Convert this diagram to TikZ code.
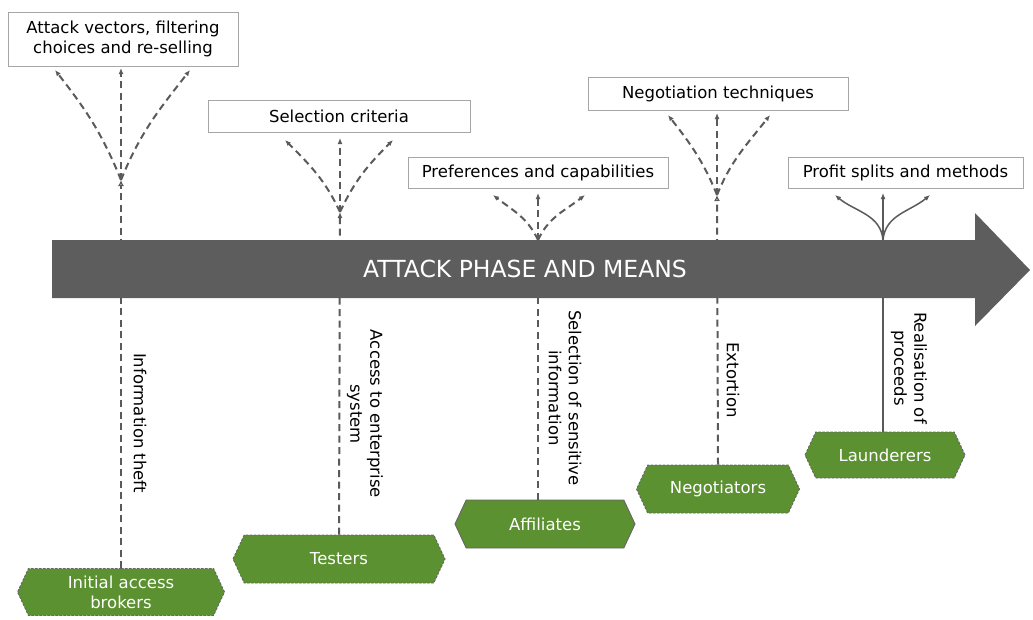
\documentclass[tikz,border=0pt]{standalone}
\usepackage{fontspec}
\setmainfont{DejaVu Sans}
\usetikzlibrary{shapes.symbols,arrows.meta}
\definecolor{grn}{HTML}{5B9130}
\definecolor{arrowgray}{HTML}{5D5D5D}
\definecolor{linegray}{HTML}{5A5A5A}
\newcommand{\lblfont}{\fontsize{16.5}{20}\selectfont}
\tikzset{
  topbox/.style={draw=black!35, line width=0.9pt, fill=white, font=\lblfont, align=center, inner sep=0pt},
  actor/.style={signal, signal to=west and east, signal pointer angle=130, fill=grn, draw=black!60, line width=0.9pt, dash pattern=on 2.5pt off 1.5pt, text=white, font=\lblfont, align=center, inner sep=0pt},
  vline/.style={draw=linegray, line width=2pt, dash pattern=on 7pt off 4.5pt},
  fanarrow/.style={vline, -{Latex[length=6pt,width=5pt]}},
  solidfan/.style={draw=linegray, line width=1.5pt, -{Latex[length=6pt,width=5pt]}},
  rotlbl/.style={rotate=-90, font=\lblfont, align=center, inner sep=0pt}
}
\begin{document}
\begin{tikzpicture}[x=1pt,y=1pt]
\useasboundingbox (0,0) rectangle (1033,-619);
% top boxes
\node[topbox, minimum width=230pt, minimum height=54pt] (t1) at (123,-39) {Attack vectors, filtering\\choices and re-selling};
\node[topbox, minimum width=262pt, minimum height=32pt] (t2) at (339,-116) {Selection criteria};
\node[topbox, minimum width=260pt, minimum height=31pt] (t3) at (538,-172.5) {Preferences and capabilities};
\node[topbox, minimum width=260pt, minimum height=33pt] (t4) at (718,-93.5) {Negotiation techniques};
\node[topbox, minimum width=235pt, minimum height=31pt] (t5) at (905.5,-172.5) {Profit splits and methods};
% actors
\node[actor, minimum width=207pt, minimum height=47pt] (a1) at (121,-592) {Initial access\\brokers};
\node[actor, minimum width=212pt, minimum height=48pt] (a2) at (339,-559) {Testers};
\node[actor, minimum width=180pt, minimum height=48pt, solid] (a3) at (545,-524) {Affiliates};
\node[actor, minimum width=163pt, minimum height=48pt] (a4) at (718,-489) {Negotiators};
\node[actor, minimum width=160pt, minimum height=46pt] (a5) at (885,-455) {Launderers};
% fan bases and tips
\coordinate (f1) at (121,-180);
\coordinate (f2) at (340,-212);
\coordinate (f3) at (538,-240);
\coordinate (f4) at (717,-195);
\coordinate (f5) at (883,-240);
\coordinate (l1) at (55,-70);  \coordinate (m1) at (121,-68);  \coordinate (r1) at (190,-70);
\coordinate (l2) at (285,-140); \coordinate (m2) at (340,-138); \coordinate (r2) at (393,-140);
\coordinate (l3) at (493,-195); \coordinate (m3) at (538,-193); \coordinate (r3) at (585,-195);
\coordinate (l4) at (668,-115); \coordinate (m4) at (717,-113); \coordinate (r4) at (770,-115);
\coordinate (l5) at (835,-195); \coordinate (m5) at (883,-193); \coordinate (r5) at (930,-195);
% vertical lines
\draw[vline, -{Latex[open,length=6pt,width=6pt]}] (a1.north) -- (f1);
\draw[vline, -{Latex[length=6pt,width=5pt]}] (a2.north) -- (f2);
\draw[vline] (a3.north -| f3) -- (f3);
\draw[vline, -{Latex[open,length=6pt,width=6pt]}] (a4.north) -- (f4);
\draw[draw=linegray, line width=1.5pt] (a5.north -| f5) -- (f5);
% big arrow
\fill[arrowgray] (52,-240) -- (975,-240) -- (975,-213) -- (1030,-270) -- (975,-326) -- (975,-298) -- (52,-298) -- cycle;
\node[text=white, font=\fontsize{23.5}{26}\selectfont] (title) at (525,-269) {ATTACK PHASE AND MEANS};
% fans
\draw[fanarrow] (f1) to[out=112,in=-52] (l1);
\draw[fanarrow] (f1) -- (m1);
\draw[fanarrow] (f1) to[out=68,in=-128] (r1);
\draw[fanarrow] (f2) to[out=115,in=-45] (l2);
\draw[fanarrow] (f2) -- (m2);
\draw[fanarrow] (f2) to[out=65,in=-135] (r2);
\draw[fanarrow] (f3) to[out=115,in=-38] (l3);
\draw[fanarrow] (f3) -- (m3);
\draw[fanarrow] (f3) to[out=65,in=-142] (r3);
\draw[fanarrow] (f4) to[out=112,in=-52] (l4);
\draw[fanarrow] (f4) -- (m4);
\draw[fanarrow] (f4) to[out=68,in=-128] (r4);
\draw[solidfan] (f5) to[out=95,in=-40] (l5);
\draw[solidfan] (f5) -- (m5);
\draw[solidfan] (f5) to[out=85,in=-140] (r5);
% rotated labels
\node[rotlbl] (i1) at (140,-423) {Information theft};
\node[rotlbl] (i2) at (365,-414) {Access to enterprise\\system};
\node[rotlbl] (i3) at (565,-398) {Selection of sensitive\\information};
\node[rotlbl] (i4) at (733,-380) {Extortion};
\node[rotlbl] (i5) at (909,-368) {Realisation of\\proceeds};
\end{tikzpicture}
\end{document}
